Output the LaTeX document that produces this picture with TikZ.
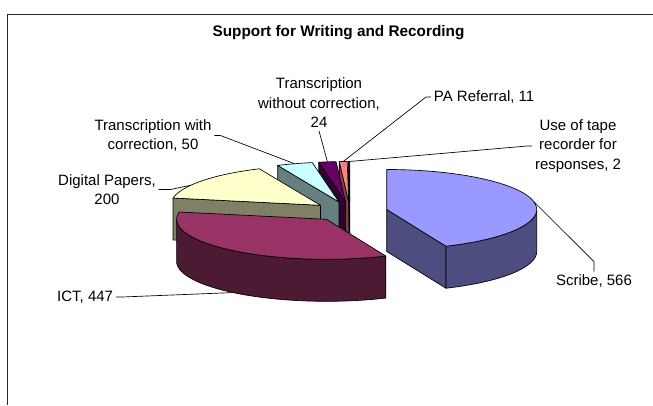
\documentclass[tikz,border=0pt]{standalone}
\usepackage{fontspec}
\setmainfont{Liberation Sans}
\usepackage{tikz}
\usetikzlibrary{calc}

\definecolor{scribetop}{HTML}{9999FF}\definecolor{scribeside}{HTML}{4D4D80}
\definecolor{icttop}{HTML}{993366}\definecolor{ictside}{HTML}{4D1A33}
\definecolor{dptop}{HTML}{FFFFCC}\definecolor{dpside}{HTML}{808066}
\definecolor{withtop}{HTML}{CCFFFF}\definecolor{withside}{HTML}{668080}
\definecolor{wotop}{HTML}{660066}\definecolor{woside}{HTML}{330033}
\definecolor{patop}{HTML}{FF8080}\definecolor{paside}{HTML}{804040}
\definecolor{tapetop}{HTML}{0066CC}\definecolor{tapeside}{HTML}{003366}

\tikzset{
	face/.style={draw=black, line width=0.5pt, line join=round},
	lbl/.style={font=\fontsize{11.25}{14.6}\selectfont, align=center, inner sep=2pt},
	lead/.style={draw=black, line width=0.5pt}
}

% name, start, end, top colour, side colour, leader angle
\newcommand{\drawslice}[6]{%
	\pgfmathsetmacro{\smid}{(#2+#3)/2}
	\coordinate (#1) at ({350+37.5*cos(\smid)},{211.5+10*sin(\smid)});
	\begin{scope}[shift={(#1)}]
		\pgfmathtruncatemacro{\sfront}{cos(#2)<0}
		\ifnum\sfront=1
			\path[face, fill=#5] (0,0) -- ({150*cos(#2)},{40*sin(#2)}) -- ++(0,42) -- (0,42) -- cycle;
		\fi
		\pgfmathtruncatemacro{\sback}{cos(#3)>0}
		\ifnum\sback=1
			\path[face, fill=#5] (0,0) -- ({150*cos(#3)},{40*sin(#3)}) -- ++(0,42) -- (0,42) -- cycle;
		\fi
		\pgfmathsetmacro{\slo}{max(#2,0)}
		\pgfmathsetmacro{\shi}{min(#3,180)}
		\ifdim\slo pt<\shi pt
			\path[face, fill=#5] plot[domain=\slo:\shi, samples=40] ({150*cos(\x)},{40*sin(\x)})
				-- plot[domain=\shi:\slo, samples=40] ({150*cos(\x)},{42+40*sin(\x)}) -- cycle;
		\fi
		\path[face, fill=#4] (0,0) -- plot[domain=#2:#3, samples=40] ({150*cos(\x)},{40*sin(\x)}) -- cycle;
		\coordinate (#1-top) at ({150*cos(#6)},{40*sin(#6)});
		\coordinate (#1-bot) at ({150*cos(#6)},{42+40*sin(#6)});
	\end{scope}
}

\begin{document}
\begin{tikzpicture}[x=0.75pt, y=-0.75pt]
	\useasboundingbox (0,0) rectangle (653,405);
	\draw[black!85, line width=0.9pt] (7.5,405) -- (7.5,14.5) -- (653,14.5);

	\node (title) at (338.5,33) {\bfseries\fontsize{11.5}{14}\selectfont Support for Writing and Recording};

	\drawslice{tape}{269.446}{270}{tapetop}{tapeside}{269.72}
	\drawslice{pa}{266.4}{269.446}{patop}{paside}{267.92}
	\drawslice{wo}{259.754}{266.4}{wotop}{woside}{263.08}
	\drawslice{with}{245.908}{259.754}{withtop}{withside}{252.83}
	\drawslice{dp}{190.523}{245.908}{dptop}{dpside}{210}
	\drawslice{scribe}{-90}{66.738}{scribetop}{scribeside}{-11.63}
	\drawslice{ict}{66.738}{190.523}{icttop}{ictside}{128.63}

	\node[lbl] (lwo) at (319,103) {Transcription\\without correction,\\24};
	\node[lbl, anchor=west] (lpa) at (431,97) {PA Referral, 11};
	\node[lbl] (ltape) at (578,146) {Use of tape\\recorder for\\responses, 2};
	\node[lbl] (lwith) at (153,135.5) {Transcription with\\correction, 50};
	\node[lbl] (ldp) at (107,189.5) {Digital Papers,\\200};
	\node[lbl, anchor=east] (lict) at (116,297) {ICT, 447};
	\node[lbl] (lscribe) at (594,281) {Scribe, 566};

	\draw[lead] (lwo.south) -- (wo-top);
	\draw[lead] (lpa.west) -- ++(-5,0) -- (pa-top);
	\draw[lead] (ltape.west) -- ++(-5,0) -- (tape-top);
	\draw[lead] (lwith.east) -- ++(6,0) -- (with-top);
	\draw[lead] (ldp.east) -- ++(12,0) -- (dp-top);
	\draw[lead] (lict.east) -- ++(6,0) -- (ict-bot);
	\draw[lead] (lscribe.north) -- ++(0,-10) -- (scribe-top);
\end{tikzpicture}
\end{document}
